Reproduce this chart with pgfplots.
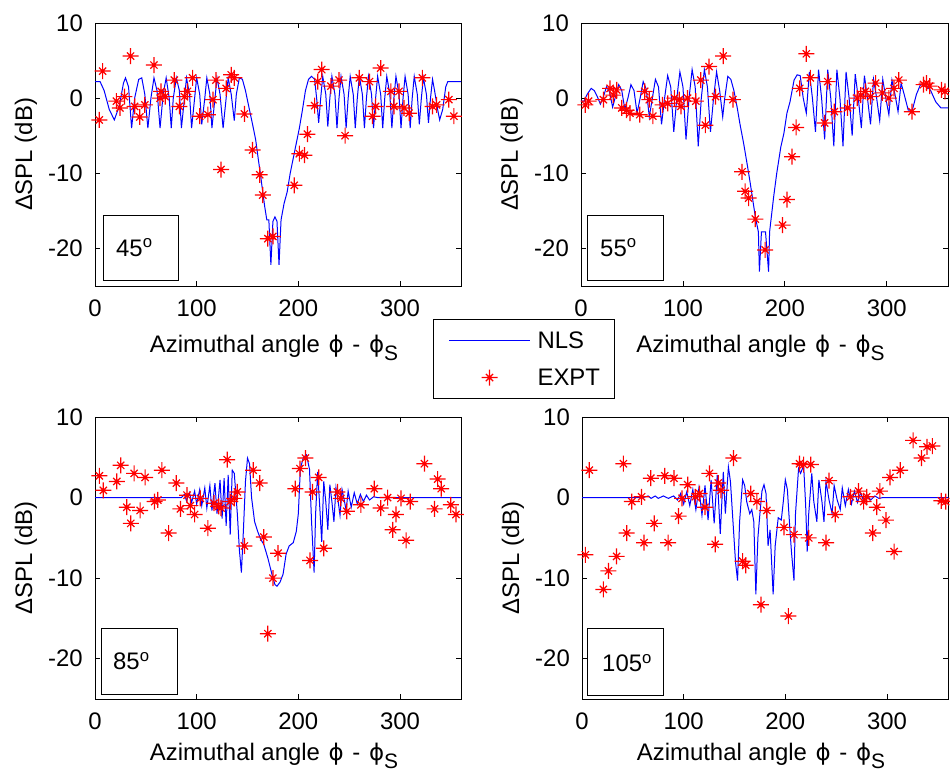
\documentclass[border=0pt]{standalone}
\usepackage{fontspec}
\setmainfont{Liberation Sans}
\newfontfamily\dejavu{DejaVu Sans}
\usepackage{pgfplots}
\pgfplotsset{compat=1.18}
\pgfdeclareplotmark{mstar}{%
  \pgfpathmoveto{\pgfqpoint{-\pgfplotmarksize}{0pt}}%
  \pgfpathlineto{\pgfqpoint{\pgfplotmarksize}{0pt}}%
  \pgfpathmoveto{\pgfqpoint{0pt}{-\pgfplotmarksize}}%
  \pgfpathlineto{\pgfqpoint{0pt}{\pgfplotmarksize}}%
  \pgfpathmoveto{\pgfqpoint{-0.45\pgfplotmarksize}{-0.45\pgfplotmarksize}}%
  \pgfpathlineto{\pgfqpoint{0.45\pgfplotmarksize}{0.45\pgfplotmarksize}}%
  \pgfpathmoveto{\pgfqpoint{-0.45\pgfplotmarksize}{0.45\pgfplotmarksize}}%
  \pgfpathlineto{\pgfqpoint{0.45\pgfplotmarksize}{-0.45\pgfplotmarksize}}%
  \pgfusepathqstroke}
\newcommand{\bigf}{\fontsize{24}{24}\selectfont}
\newcommand{\ph}{{\dejavu\fontsize{23}{23}\selectfont ϕ}}
\pgfplotsset{
  panel/.style={
    scale only axis, clip=false,
    xmin=0, xmax=360, ymin=-25, ymax=10,
    xtick={0,100,200,300}, xticklabels={0,100,200,300},
    ytick={-20,-10,0,10}, yticklabels={-20,-10,0,10},
    tick align=inside, major tick length=5bp,
    axis line style={line width=0.8bp, black},
    every tick/.style={black, line width=0.8bp},
    tick label style={font=\bigf},
    label style={font=\bigf},
    xticklabel style={inner sep=0pt, anchor=north, yshift=-14bp},
    yticklabel style={inner sep=0pt, anchor=east, xshift=-12bp},
    ylabel={ΔSPL (dB)},
    xlabel={Azimuthal angle\hspace{2bp} \ph\hspace{2bp} -\hspace{2bp} \ph\raisebox{-8bp}{\fontsize{21}{21}\selectfont S}},
    ylabel style={at={(axis description cs:-0.189,0.5)}, anchor=center},
  },
  nls/.style={blue, line width=1bp, mark=none},
  expt/.style={red, only marks, mark=mstar, mark size=8bp, line width=1.2bp},
  nlsleg/.style={legend image code/.code={\path (0bp,0bp); \draw[##1] (3bp,0bp) -- (84bp,0bp);}},
  exptleg/.style={legend image code/.code={\path (0bp,0bp) (84bp,0bp); \draw[##1, only marks] plot coordinates {(43.5bp,0bp)};}},
}
\begin{document}
\begin{tikzpicture}
\useasboundingbox (0,0) rectangle (950bp,778bp);
% ---------- panel 1 (45 deg) ----------
\begin{axis}[panel, at={(95bp,492bp)}, anchor=south west, width=366bp, height=263bp,
  xlabel style={at={(axis description cs:0.5,0)}, anchor=base, yshift=-67bp, xshift=-4bp},
  legend style={at={(0.9235,-0.1255)}, anchor=north west, draw=black, fill=white,
    line width=0.8bp, inner xsep=12bp, inner ysep=10bp, row sep=15bp, column sep=5bp,
    font=\bigf, nodes={inner sep=2bp}, cells={anchor=west}}]
\addplot[nls, nlsleg] coordinates {
(0,2.2)(5,2.2)(9,1.0)(14,-1.5)(19,-2.9)(24,-1)(28,2.0)(30,2.7)(33,1.5)(36,-4.0)(39,0)(43,2.5)(46,2.7)(49,0.5)(52,-4.0)(55,0)(58,2.7)(61,1)(64,-4.0)(67,0.5)(70,2.7)(73,0)(75,-4.0)(77,0)(80,2.7)(83,1.0)(85,-4.0)(88,0)(90,2.7)(93,0.5)(95,-4.0)(98,0)(100,2.7)(103,0.5)(105,-3.5)(108,0)(110,2.7)(113,0.5)(115,-4.0)(118,0)(120,2.7)(123,0.5)(126,-4.0)(129,0)(131,2.7)(134,0.5)(137,-3.0)(139,0.5)(142,2.7)(145,2.5)(148,1.0)(152,-1.6)(155,-3.5)(158,-5.5)(161,-8.5)(163,-10.4)(165,-12.5)(167,-14.5)(169,-16.2)(171,-16.2)(173,-22.2)(175,-16.4)(177,-15.8)(179,-16.4)(181,-22.2)(183,-16.2)(186,-14)(189,-12.5)(192,-10)(195,-8)(198,-6)(201,-4)(204,-1.6)(207,1)(210,2.5)(213,2.9)(216,2.5)(218,0)(220,-3.3)(222,0)(224,2.9)(227,0.5)(229,-3.8)(231,0)(233,2.9)(236,0.5)(238,-4)(240,0)(242,2.9)(245,0.5)(247,-4)(249,0)(251,2.9)(254,0.5)(256,-4)(258,0)(260,2.9)(263,0.5)(265,-4)(267,0)(269,2.9)(272,0.5)(274,-4)(276,0)(278,2.9)(281,0.5)(283,-4)(285,0)(287,2.9)(290,0.5)(292,-4)(294,0)(296,2.9)(299,0.5)(301,-4)(303,0)(305,2.9)(308,0.5)(310,-4)(312,0)(314,2.9)(317,0.5)(319,-3.5)(321,0)(323,2.7)(326,0.5)(328,-3.3)(330,0)(332,2.5)(334,1)(337,-1.5)(339,-2.9)(342,-1.5)(345,1.5)(347,2.2)(360,2.2)};
\addlegendentry{NLS}
\addplot[expt, exptleg] coordinates {
(4.2,-2.9)(7.5,3.6)(21,-0.4)(24.5,-1.3)(29,0.2)(35,5.6)(39,-1.1)(44,-2.5)(49,-0.9)(58,4.4)(64,0)(65,0.9)(69,0.2)(78,2.4)(83,-1.1)(88,0.2)(91,0.9)(96,2.7)(103,-2.4)(111,-2.2)(116,-0.2)(119,2.4)(124,-9.5)(129,1.3)(134,3.1)(137,2.7)(147,-2.1)(155,-6.9)(162,-10.2)(165,-12.9)(170,-18.7)(175,-18.4)(196,-11.6)(201,-7.4)(206,-7.6)(209,-4.8)(216,-1.0)(219,2.2)(223,3.8)(232,1.6)(240,2.4)(246,-5.0)(260,2.7)(270,2.2)(273,-2.4)(276,-1.1)(281,4.0)(291,0.9)(294,-1.1)(299,0.9)(304,-1.3)(309,-2.0)(322,2.7)(332,-1.1)(336,-0.9)(348,-0.2)(353,-2.4)};
\addlegendentry{EXPT}
\end{axis}
% ---------- panel 2 (55 deg) ----------
\begin{axis}[panel, at={(581bp,492bp)}, anchor=south west, width=367bp, height=263bp,
  xlabel style={at={(axis description cs:0.5,0)}, anchor=base, yshift=-67bp, xshift=-4bp}]
\addplot[nls] coordinates {
(0,-0.4)(3,-0.4)(6,0.5)(10,1.3)(13,1.0)(16,0.2)(19,-0.8)(22,0.2)(25,1.5)(28,0.8)(31,-1.2)(34,0.3)(37,1.8)(40,1)(43,-1.5)(46,0)(49,1.8)(52,1.0)(55,-2.0)(58,0)(61,2.2)(64,1.2)(67,-2.5)(70,0)(73,2.5)(76,1.5)(79,-3.5)(82,0)(85,3)(88,1.5)(91,-4.5)(94,0)(97,3.5)(100,1.5)(103,-5.5)(106,0)(109,3.8)(112,1.5)(115,-6.4)(118,0)(121,3.8)(124,1.5)(127,-4.5)(130,0)(133,3.5)(136,1.0)(139,-2.5)(141,0)(144,2.9)(147,2.5)(150,1)(153,-1.1)(156,-3.5)(159.5,-6)(163,-8.8)(166,-11.3)(169,-14)(171,-15.8)(174,-17.8)(175,-23.1)(177,-17.8)(181,-17.8)(184,-23.1)(185,-17.8)(189,-13.1)(192,-10)(196,-6.5)(199,-4.7)(202,-2)(205,-0.5)(209,2.4)(212,3.1)(215,3.0)(218,0)(221,-2)(224,3.5)(227,0)(230,-4.5)(233,3.8)(236,0)(239,-5.5)(242,3.8)(245,0)(248,-6.4)(251,3.8)(254,0)(257,-6.4)(260,3.5)(263,0)(266,-5)(269,3.2)(272,0)(275,-4)(278,3.0)(281,0)(284,-3.5)(287,2.5)(290,0)(293,-3)(296,2.5)(299,0)(302,-2.2)(305,2.4)(308,0.5)(311,-1.8)(314,2.0)(317,0.5)(321,-1.6)(325,-1.6)(329,0.5)(333,1.8)(338,1.8)(343,1)(348,-0.5)(353,-1.3)(360,-1.3)};
\addplot[expt] coordinates {
(4.2,-0.9)(7.4,-0.4)(22,-0.2)(28.5,1.3)(31.7,0.4)(35,1.1)(40,-1.3)(44.7,-1.6)(48,-2.0)(57.6,-2.2)(62.5,0.9)(67,-0.2)(70.5,-2.4)(80,-0.9)(85,-0.7)(91.6,0)(96.4,-0.2)(98,-1.1)(104.5,0)(112.6,-0.4)(117.5,2.4)(122,-3.6)(125.6,4.2)(132,0.2)(139.5,5.6)(149,-0.2)(158,-9.8)(161,-12.4)(164.4,-13.3)(171,-16.1)(180.6,-20.2)(197.7,-16.9)(202,-13.5)(207,-7.8)(211,-3.9)(214.6,1.3)(221,5.9)(225,2.7)(239,-3.3)(242,2.2)(248.5,-1.8)(261.5,-1.3)(271,0)(274.4,0.4)(279,0.9)(284,0.2)(289,2)(295.5,0.7)(302,0)(307,1.3)(311.7,2.4)(324.6,-1.8)(336,1.8)(339,2)(342,1.6)(353.7,1.1)(357,0.9)};
\end{axis}
% ---------- panel 3 (85 deg) ----------
\begin{axis}[panel, at={(95bp,79bp)}, anchor=south west, width=366bp, height=282bp,
  xlabel style={at={(axis description cs:0.5,0)}, anchor=base, yshift=-61bp, xshift=-4bp}]
\addplot[nls] coordinates {
(0,0)(85,0)(88,0.4)(90,-0.4)(93,0.6)(95,-0.6)(98,0.8)(100,-0.8)(103,1)(105,-1)(108,1.2)(110,-1.3)(113,1.5)(115,-1.6)(118,1.8)(120,-2)(123,2.2)(125,-2.6)(127,2.4)(129,-3.5)(131,2.8)(133,-4.6)(135,3.4)(137,3.0)(140,-2)(142,-6.5)(144,-9.3)(146,-4)(148,2)(150,4.9)(152,4.2)(154,0)(157,-3)(160,-4.2)(163,-5.2)(166,-5.8)(170,-7.5)(174,-9.5)(177,-10.8)(179,-11)(182,-10.5)(185,-9.5)(188,-7)(191,-6)(195,-5.6)(198,-4.2)(200,-2)(202,3.6)(205,5.0)(208,5.3)(211,3.5)(213,-3)(215.5,-9.3)(217,-2)(219,3.2)(221,-1)(223,-5.5)(225,2.0)(227,-0.5)(229,-4)(231,1.6)(233,-0.5)(235,-3)(237,1.2)(239,-0.3)(241,-2.2)(243,1.0)(245,-0.2)(247,-1.6)(249,0.8)(252,-1.2)(255,0.6)(258,-0.8)(261,0.4)(264,-0.5)(267,0.3)(270,-0.3)(274,0.1)(278,0)(360,0)};
\addplot[expt] coordinates {
(4.3,2.7)(8.2,0.9)(21.4,2.0)(25.3,4.0)(31.3,-1.2)(35.2,-3.2)(38.5,3.0)(44.4,-1.6)(49.3,2.5)(58.6,-0.5)(61.8,-0.3)(65.8,3.4)(72.4,-4.4)(80,1.8)(84,-1.4)(90.5,0.3)(93.8,-1.0)(98,-2.1)(103.6,-0.1)(111,-3.8)(117,-0.7)(121.7,-1.1)(124,-1.3)(130,4.7)(133,-0.5)(137,-0.1)(140,0.7)(147,-6.0)(155.6,3.4)(162,1.8)(166,-4.9)(170,-16.9)(175,-10.0)(180,-6.9)(197,1.1)(201.6,3.6)(207,4.9)(211.5,-7.8)(214,0.7)(220,2.5)(225,-6.3)(238.5,0.7)(241.8,-0.1)(247.7,-1.7)(261.5,-0.9)(274.7,1.1)(281,-1.3)(287.8,0)(292.8,-4.0)(296,-2.1)(301,-0.1)(306,-5.3)(310,-0.5)(324,4.2)(334,-1.4)(337,2.3)(340.5,1.1)(350,-0.9)(355,-2.1)};
\end{axis}
% ---------- panel 4 (105 deg) ----------
\begin{axis}[panel, at={(582bp,79bp)}, anchor=south west, width=366bp, height=282bp,
  xlabel style={at={(axis description cs:0.5,0)}, anchor=base, yshift=-61bp, xshift=-4bp}]
\addplot[nls] coordinates {
(0,0)(60,0)(65,0.2)(68,-0.1)(72,0.2)(75,-0.1)(80,0.2)(85,-0.1)(90,0.2)(94,-0.3)(97,0.5)(100,-0.8)(103,0.7)(106,-1)(109,1)(112,-1.5)(115,1.2)(118,-2.2)(121,1.5)(124,-2.8)(127,2.2)(130,-3.2)(133,2.8)(136,-4.5)(139,3.2)(141,-2)(144,3.8)(146,2)(149,-4)(151,-8)(153,-10.3)(155,-3)(158,2.2)(160,1.5)(162,-0.5)(165,-2)(167,-1.5)(169,-3)(171,-12)(173,-5)(175,-2)(177,0.8)(179,1.6)(181,0.5)(183,-6)(185,-4)(188,-12)(190,-6)(193,-2.5)(196,-2.8)(198,-0.5)(200,2.2)(202,1)(204,-3)(206,-6.7)(208.5,-10.3)(210,-2)(213,3.6)(215,3)(218,4.0)(220,-1)(221.5,-6.7)(223,-2)(226,3.0)(228,-0.5)(231,-3)(233,2.2)(236,-0.5)(238,-3)(240,2)(243,-0.3)(246,-2)(248,1.5)(251,-0.3)(254,-1.5)(256,1.2)(259,-1)(262,1.0)(265,-0.8)(268,0.8)(271,-0.6)(274,0.6)(277,-0.4)(280,0.4)(284,-0.3)(288,0.2)(292,-0.1)(296,0)(360,0)};
\addplot[expt] coordinates {
(3.3,-7.1)(7.2,3.4)(21,-11.4)(26,-9.1)(34,-7.3)(40.7,4.2)(44,-4.4)(49,-0.5)(58.6,0.1)(61,-5.6)(67.7,2.4)(71,-3.2)(81.4,2.7)(84.7,-5.6)(90.5,2.4)(95,-2.3)(98.4,-0.1)(104,1.6)(111.4,0.1)(115.6,0.5)(121,-1.2)(125.4,3.0)(131,-5.8)(134,1.8)(136.8,0.9)(149,4.9)(158,-7.9)(161,-8.4)(166,0.5)(172,-0.5)(176,-13.3)(181.8,-1.6)(198.7,-3.7)(203,-14.7)(208.5,-4.6)(214,4.2)(218,4.1)(223,-5.0)(225,4.1)(240,-5.6)(243,2.1)(249,-2.1)(264,0.1)(272,0.8)(277,-0.5)(280,0.1)(286,-4.4)(290,-1.2)(293,0.8)(299,-2.8)(303,2.5)(307,-6.7)(313,3.4)(325.7,7.1)(334,4.9)(339.4,6.3)(344.6,6.4)(353.4,-0.4)(357.7,-0.5)};
\end{axis}
% ---------- angle boxes ----------
\draw[line width=0.8bp] (103bp,498bp) rectangle (178bp,563bp);
\node[anchor=base west, inner sep=0pt, font=\bigf] at (116bp,521bp) {45\textsuperscript{o}};
\draw[line width=0.8bp] (587bp,498bp) rectangle (663bp,563bp);
\node[anchor=base west, inner sep=0pt, font=\bigf] at (600bp,521bp) {55\textsuperscript{o}};
\draw[line width=0.8bp] (101bp,84bp) rectangle (177bp,150bp);
\node[anchor=base west, inner sep=0pt, font=\bigf] at (113bp,108bp) {85\textsuperscript{o}};
\draw[line width=0.8bp] (587bp,83bp) rectangle (663bp,150bp);
\node[anchor=base west, inner sep=0pt, font=\bigf] at (602bp,106bp) {105\textsuperscript{o}};
\end{tikzpicture}
\end{document}
